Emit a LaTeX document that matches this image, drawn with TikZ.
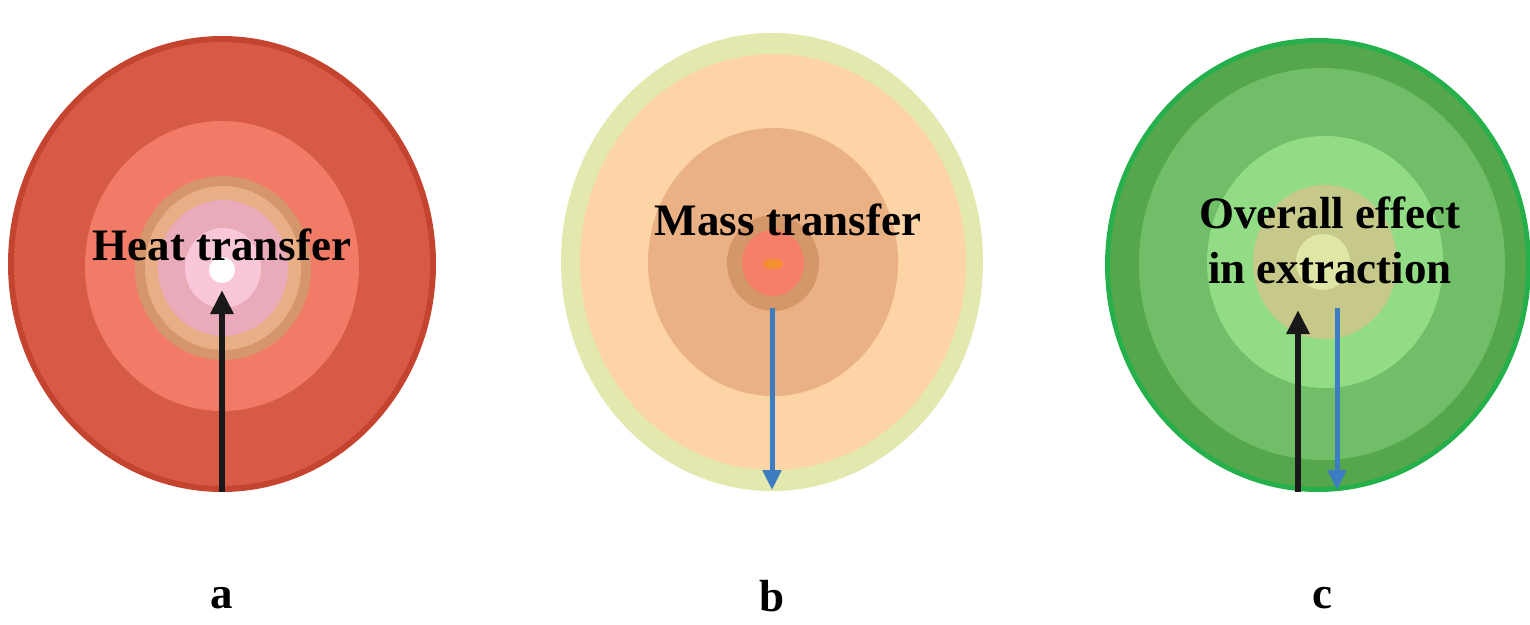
\documentclass[tikz,border=0pt]{standalone}
\usepackage{fontspec}
\setmainfont{Liberation Serif}
\usetikzlibrary{arrows.meta}
\definecolor{aedge}{HTML}{C5442F}
\definecolor{aband}{HTML}{D75B44}
\definecolor{asalmon}{HTML}{F27B67}
\definecolor{atan}{HTML}{D4966A}
\definecolor{alighttan}{HTML}{E8AE85}
\definecolor{apink}{HTML}{E9AAB9}
\definecolor{alight}{HTML}{F8C8D8}
\definecolor{bouter}{HTML}{E3E8AF}
\definecolor{bpeach}{HTML}{FDD4A5}
\definecolor{btan}{HTML}{EAB284}
\definecolor{bdark}{HTML}{D4976A}
\definecolor{bsalmon}{HTML}{F67F68}
\definecolor{borange}{HTML}{F5902E}
\definecolor{cedge}{HTML}{25B04B}
\definecolor{cband}{HTML}{56A74C}
\definecolor{cmid}{HTML}{70BE67}
\definecolor{clight}{HTML}{93DC86}
\definecolor{ckhaki}{HTML}{C6C98A}
\definecolor{cpale}{HTML}{E0E6A6}
\definecolor{flowblue}{HTML}{3B7DC0}
\tikzset{
  lbl/.style={font=\fontsize{45}{54}\selectfont\bfseries, text=black, inner sep=0pt, align=center},
  heatarrow/.style={line width=6pt, draw=black!90, -{Triangle[length=24pt,width=22pt]}},
  massarrow/.style={line width=5pt, draw=flowblue, -{Triangle[length=20pt,width=18pt]}},
}
\begin{document}
\begin{tikzpicture}[x=1pt,y=-1pt]
\fill[white] (0,0) rectangle (1530,624);
\useasboundingbox (0,0) rectangle (1530,624);
% circle a
\fill[aedge] (222,264) ellipse [x radius=214, y radius=228];
\fill[aband] (222,264) ellipse [x radius=208, y radius=222];
\fill[asalmon] (222,266) ellipse [x radius=137, y radius=145];
\fill[atan] (223,268) ellipse [x radius=88, y radius=92];
\fill[alighttan] (223,268) ellipse [x radius=78, y radius=82];
\fill[apink] (223,268) ellipse [x radius=65, y radius=68];
\fill[alight] (223,268) ellipse [x radius=38, y radius=40];
\fill[white] (222,270) ellipse [x radius=13, y radius=13];
% circle b
\fill[bouter] (772,262) ellipse [x radius=211, y radius=229];
\fill[bpeach] (773,262) ellipse [x radius=193, y radius=208];
\fill[btan] (773,262) ellipse [x radius=125, y radius=134];
\fill[bdark] (773,263) ellipse [x radius=46, y radius=48];
\fill[bsalmon] (773,263) ellipse [x radius=31, y radius=33];
\fill[borange] (773,264) ellipse [x radius=10, y radius=5];
% circle c
\fill[cedge] (1318,265) ellipse [x radius=213, y radius=227];
\fill[cband] (1318,265) ellipse [x radius=208, y radius=222];
\fill[cmid] (1322,264) ellipse [x radius=183, y radius=196];
\fill[clight] (1325,262) ellipse [x radius=118, y radius=126];
\fill[ckhaki] (1325,262) ellipse [x radius=72, y radius=77];
\fill[cpale] (1323,262) ellipse [x radius=27, y radius=28];
% texts
\node[lbl] (ta) at (222,245) {Heat transfer};
\node[lbl] (tb) at (788,220) {Mass transfer};
\node[lbl, text depth=0pt] (tc) at (1330,240) {Overall effect\\[1pt]in extraction};
\node[lbl] (la) at (222,598) {a};
\node[lbl] (lb) at (772,596) {b};
\node[lbl] (lc) at (1322,598) {c};
% arrow endpoints
\coordinate (a0) at (222,492);
\coordinate (a1) at (222,290);
\coordinate (b0) at (772,308);
\coordinate (b1) at (772,490);
\coordinate (c0) at (1298,492);
\coordinate (c1) at (1298,310);
\coordinate (d0) at (1337,308);
\coordinate (d1) at (1337,490);
\draw[heatarrow] (a0) -- (a1);
\draw[massarrow] (b0) -- (b1);
\draw[heatarrow] (c0) -- (c1);
\draw[massarrow] (d0) -- (d1);
\end{tikzpicture}
\end{document}
